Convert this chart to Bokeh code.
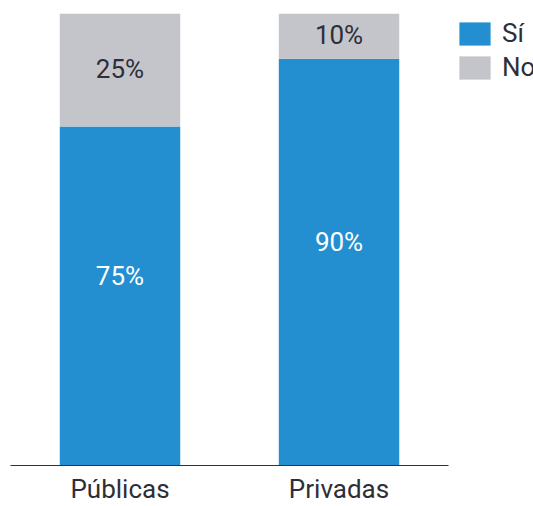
from bokeh.plotting import figure
from bokeh.models import ColumnDataSource, Legend, LegendItem, Range1d, FixedTicker
from bokeh.core.properties import value
from bokeh.embed import file_html
from bokeh.resources import INLINE

categories = ["Públicas", "Privadas"]
si_values = [75, 90]
no_values = [25, 10]
series_names = ["Sí", "No"]

BLUE = "#238FD0"
GRAY = "#C4C5CB"
DARK = "#2E2E38"
FONT = "Roboto"

xpos = [i + 0.5 for i in range(len(categories))]

src = ColumnDataSource(dict(
    x=xpos,
    cat=categories,
    si_top=si_values,
    no_top=[s + n for s, n in zip(si_values, no_values)],
    si_mid=[s / 2 for s in si_values],
    no_mid=[s + n / 2 for s, n in zip(si_values, no_values)],
    si_lab=[f"{v}%" for v in si_values],
    no_lab=[f"{v}%" for v in no_values],
))

n = len(categories)
p = figure(width=533, height=506, x_range=Range1d(0, n * 1.194),
           y_range=Range1d(0, 100), output_backend="svg", toolbar_location=None,
           min_border_left=10, min_border_right=0, min_border_top=13, min_border_bottom=30)
p.outline_line_color = None
p.background_fill_color = None
p.border_fill_color = None

r_si = p.vbar(x="x", bottom=0, top="si_top", width=0.55, source=src,
              fill_color=BLUE, line_color=None)
r_no = p.vbar(x="x", bottom="si_top", top="no_top", width=0.55, source=src,
              fill_color=GRAY, line_color=None)

p.text(x="x", y="si_mid", text="si_lab", source=src, text_color="white",
       text_font=value(FONT), text_font_size="26px", text_align="center",
       text_baseline="middle", y_offset=-20)
p.text(x="x", y="no_mid", text="no_lab", source=src, text_color=DARK,
       text_font=value(FONT), text_font_size="26px", text_align="center",
       text_baseline="middle", y_offset=-1)

p.yaxis.visible = False
p.xgrid.visible = False
p.ygrid.visible = False
xa = p.xaxis[0]
xa.ticker = FixedTicker(ticks=xpos)
xa.major_label_overrides = {x: c for x, c in zip(xpos, categories)}
xa.bounds = (0, n)
xa.axis_line_color = "#333333"
xa.axis_line_width = 1
xa.major_tick_line_color = None
xa.minor_tick_line_color = None
xa.major_tick_out = 0
xa.major_tick_in = 0
xa.major_label_text_font = FONT
xa.major_label_text_font_size = "26px"
xa.major_label_text_color = DARK
xa.major_label_standoff = 8

legend = Legend(items=[LegendItem(label=series_names[0], renderers=[r_si]),
                       LegendItem(label=series_names[1], renderers=[r_no])],
                location=(445, 383), orientation="vertical",
                glyph_width=39, glyph_height=29, label_standoff=8,
                label_text_font=FONT, label_text_font_size="26px",
                label_text_color=DARK, spacing=4, padding=0, margin=0,
                border_line_color=None, background_fill_alpha=0)
p.add_layout(legend, "center")

open("out.html", "w").write(file_html(p, INLINE))
